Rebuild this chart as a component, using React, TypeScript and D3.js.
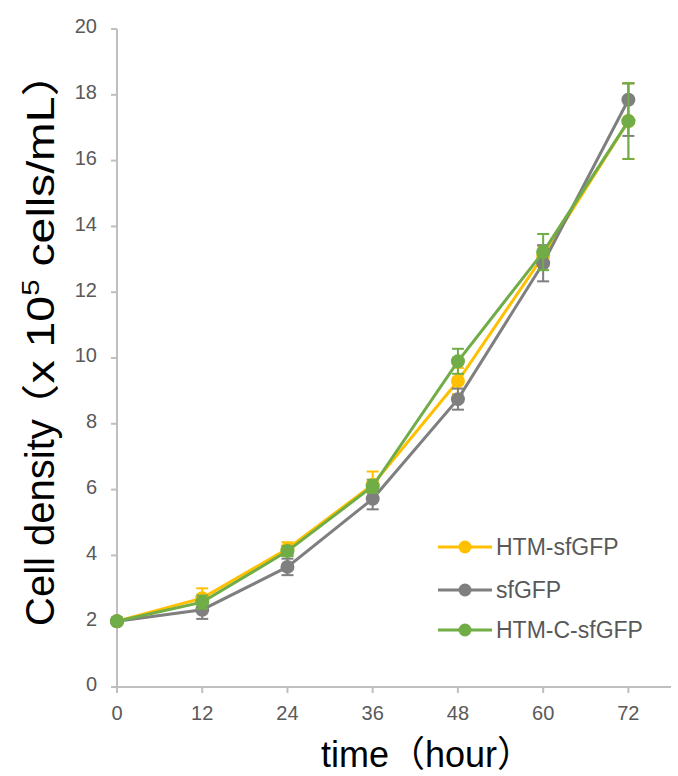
import * as d3 from "d3";

const hours = [0, 12, 24, 36, 48, 60, 72];
const yTicks = [0, 2, 4, 6, 8, 10, 12, 14, 16, 18, 20];

const htmValues = [2.0, 2.7, 4.2, 6.15, 9.3, 13.1, 17.2];
const htmErrUp = [0.05, 0.3, 0.2, 0.4, 0.4, 0.3, 1.15];
const htmErrDown = [0.05, 0.3, 0.2, 0.4, 0.4, 0.3, 1.15];

const sfValues = [2.0, 2.35, 3.65, 5.72, 8.75, 12.88, 17.85];
const sfErrUp = [0.05, 0.28, 0.25, 0.32, 0.32, 0.55, 0.5];
const sfErrDown = [0.05, 0.28, 0.25, 0.32, 0.32, 0.55, 1.1];

const htmcValues = [2.0, 2.58, 4.13, 6.1, 9.9, 13.22, 17.2];
const htmcErrUp = [0.05, 0.2, 0.15, 0.2, 0.38, 0.55, 1.15];
const htmcErrDown = [0.05, 0.2, 0.15, 0.2, 0.38, 0.55, 1.15];

const SERIES = [
  { name: "HTM-sfGFP", color: "#FFC000", values: htmValues, up: htmErrUp, down: htmErrDown },
  { name: "sfGFP", color: "#7F7F7F", values: sfValues, up: sfErrUp, down: sfErrDown },
  { name: "HTM-C-sfGFP", color: "#70AD47", values: htmcValues, up: htmcErrUp, down: htmcErrDown },
];

const W = 678;
const H = 776;
const AXIS = "#BFBFBF";
const LABEL = "#595959";
const FONT = "'Liberation Sans', Arial, sans-serif";
const CJK = "'Noto Sans CJK SC', sans-serif";

export default function App() {
  // axis extends a bit past the last point, like the original
  const x = d3.scaleLinear().domain([0, 78]).range([117, 671]);
  const y = d3.scaleLinear().domain([0, 20]).range([687, 29]);

  const line = d3
    .line<number>()
    .x((_, i) => x(hours[i]))
    .y((d) => y(d));

  const legendY = [547, 590, 630];

  return (
    <svg width={W} height={H} style={{ position: "absolute", left: 0, top: 0, background: "#fff" }}>
      {/* axes */}
      <line x1={x(0)} x2={x(0)} y1={y(0)} y2={y(20)} stroke={AXIS} strokeWidth={2} />
      <line x1={x(0)} x2={x.range()[1]} y1={y(0)} y2={y(0)} stroke={AXIS} strokeWidth={2} />
      {yTicks.map((t) => (
        <g key={"y" + t}>
          <line x1={x(0) - 6} x2={x(0)} y1={y(t)} y2={y(t)} stroke={AXIS} strokeWidth={2} />
          <text x={97} y={y(t)} dy="0.22em" textAnchor="end" fontSize={20} fill={LABEL} fontFamily={FONT}>
            {t}
          </text>
        </g>
      ))}
      {hours.map((h) => (
        <g key={"x" + h}>
          <line x1={x(h)} x2={x(h)} y1={y(0)} y2={y(0) + 6} stroke={AXIS} strokeWidth={2} />
          <text x={x(h)} y={720} textAnchor="middle" fontSize={20} fill={LABEL} fontFamily={FONT}>
            {h}
          </text>
        </g>
      ))}

      {/* axis titles */}
      <g transform="translate(54,0) rotate(-90)">
        <text x={-626} y={0} fontSize={40} fill="#000" fontFamily={FONT}>
          Cell density
        </text>
        <text
          x={-430}
          y={0}
          fontSize={38}
          fill="#000"
          fontFamily={FONT}
          textLength={380}
          lengthAdjust="spacingAndGlyphs"
        >
          <tspan fontFamily={CJK}>（</tspan>x 10
          <tspan fontSize={24} dy={-15}>5</tspan>
          <tspan dy={15}> cells/mL</tspan>
          <tspan fontFamily={CJK}>）</tspan>
        </text>
      </g>
      <text x={427} y={767} textAnchor="middle" fontSize={36} fill="#000" fontFamily={FONT}>
        time<tspan fontFamily={CJK}>（</tspan>hour
        <tspan fontFamily={CJK}>）</tspan>
      </text>

      {/* series */}
      {SERIES.map((s) => (
        <g key={s.name}>
          <path d={line(s.values) || ""} fill="none" stroke={s.color} strokeWidth={3} />
          {s.values.map((v, i) => (
            <g key={i} stroke={s.color} strokeWidth={2}>
              <line x1={x(hours[i])} x2={x(hours[i])} y1={y(v + s.up[i])} y2={y(v - s.down[i])} />
              <line x1={x(hours[i]) - 6} x2={x(hours[i]) + 6} y1={y(v + s.up[i])} y2={y(v + s.up[i])} />
              <line x1={x(hours[i]) - 6} x2={x(hours[i]) + 6} y1={y(v - s.down[i])} y2={y(v - s.down[i])} />
            </g>
          ))}
          {s.values.map((v, i) => (
            <circle key={"c" + i} cx={x(hours[i])} cy={y(v)} r={7} fill={s.color} />
          ))}
        </g>
      ))}

      {/* legend */}
      {SERIES.map((s, i) => (
        <g key={"lg" + s.name} transform={`translate(438,${legendY[i]})`}>
          <line x1={0} x2={54} y1={0} y2={0} stroke={s.color} strokeWidth={3} />
          <circle cx={27} cy={0} r={6.5} fill={s.color} />
          <text x={58} y={0} dy="0.35em" fontSize={23} fill={LABEL} fontFamily={FONT}>
            {s.name}
          </text>
        </g>
      ))}
    </svg>
  );
}
